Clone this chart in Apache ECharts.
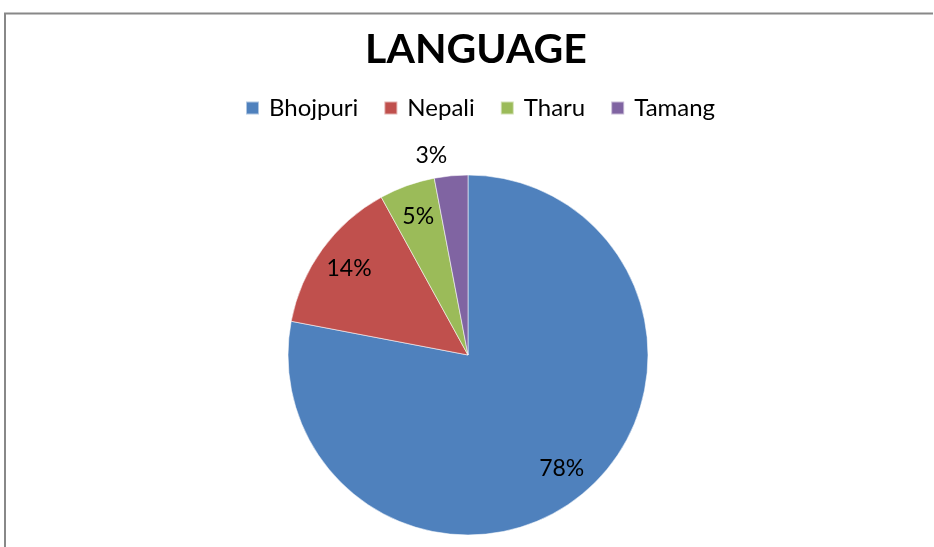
<!DOCTYPE html>
<html>
<head>
<meta charset="utf-8">
<script src="https://cdn.jsdelivr.net/npm/echarts@6/dist/echarts.min.js"></script>
<style>
  html, body { margin: 0; padding: 0; background: #fff; }
  #chart { width: 934px; height: 547px; }
</style>
</head>
<body>
<div id="chart"></div>
<script>
// Share of speakers by mother tongue
const categories = ['Bhojpuri', 'Nepali', 'Tharu', 'Tamang'];
const shares = [78, 14, 5, 3];
const colors = ['#4F81BD', '#C0504D', '#9BBB59', '#8064A2'];

const FONT = 'Lato, "Open Sans", sans-serif';
const chart = echarts.init(document.getElementById('chart'));

const sliceData = categories.map((name, i) => ({
  name,
  value: shares[i],
  itemStyle: { color: colors[i] },
  // only the smallest slice keeps its label outside the pie
  label: i === 3 ? { show: true } : { show: false }
}));

// invisible ring used only to place the in-slice labels near the rim
const labelData = categories.map((name, i) => ({
  name,
  value: shares[i],
  label: { show: i !== 3 }
}));

chart.setOption({
  animation: false,
  title: {
    text: 'LANGUAGE',
    left: 471,
    textAlign: 'center',
    top: 24,
    textStyle: { fontFamily: FONT, fontSize: 41, fontWeight: 'bold', color: '#000' }
  },
  legend: {
    data: categories,
    top: 91,
    left: 240,
    itemWidth: 13,
    itemHeight: 13,
    itemGap: 25,
    icon: 'rect',
    textStyle: { fontFamily: FONT, fontSize: 24, color: '#000', padding: [0, 0, 0, 5] }
  },
  graphic: [{
    type: 'polyline',
    shape: { points: [[5, 620], [5, 13.5], [933, 13.5]] },
    style: { fill: 'none', stroke: '#888', lineWidth: 2 },
    silent: true
  }],
  series: [
    {
      type: 'pie',
      center: [468, 355],
      radius: 180,
      startAngle: 90,
      clockwise: true,
      data: sliceData,
      itemStyle: { borderColor: 'rgba(255,255,255,0.55)', borderWidth: 1 },
      label: {
        position: 'outside',
        formatter: '{d}%',
        fontFamily: FONT,
        fontSize: 23,
        color: '#000',
        distanceToLabelLine: 2
      },
      labelLine: { show: false, length: 20, length2: 0 },
      emphasis: { disabled: true }
    },
    {
      type: 'pie',
      center: [468, 355],
      radius: [0, 288],
      startAngle: 90,
      clockwise: true,
      silent: true,
      data: labelData,
      itemStyle: { color: 'rgba(0,0,0,0)' },
      label: {
        position: 'inside',
        formatter: '{d}%',
        fontFamily: FONT,
        fontSize: 23,
        color: '#000'
      },
      labelLine: { show: false },
      emphasis: { disabled: true },
      z: 3
    }
  ]
});
</script>
</body>
</html>
